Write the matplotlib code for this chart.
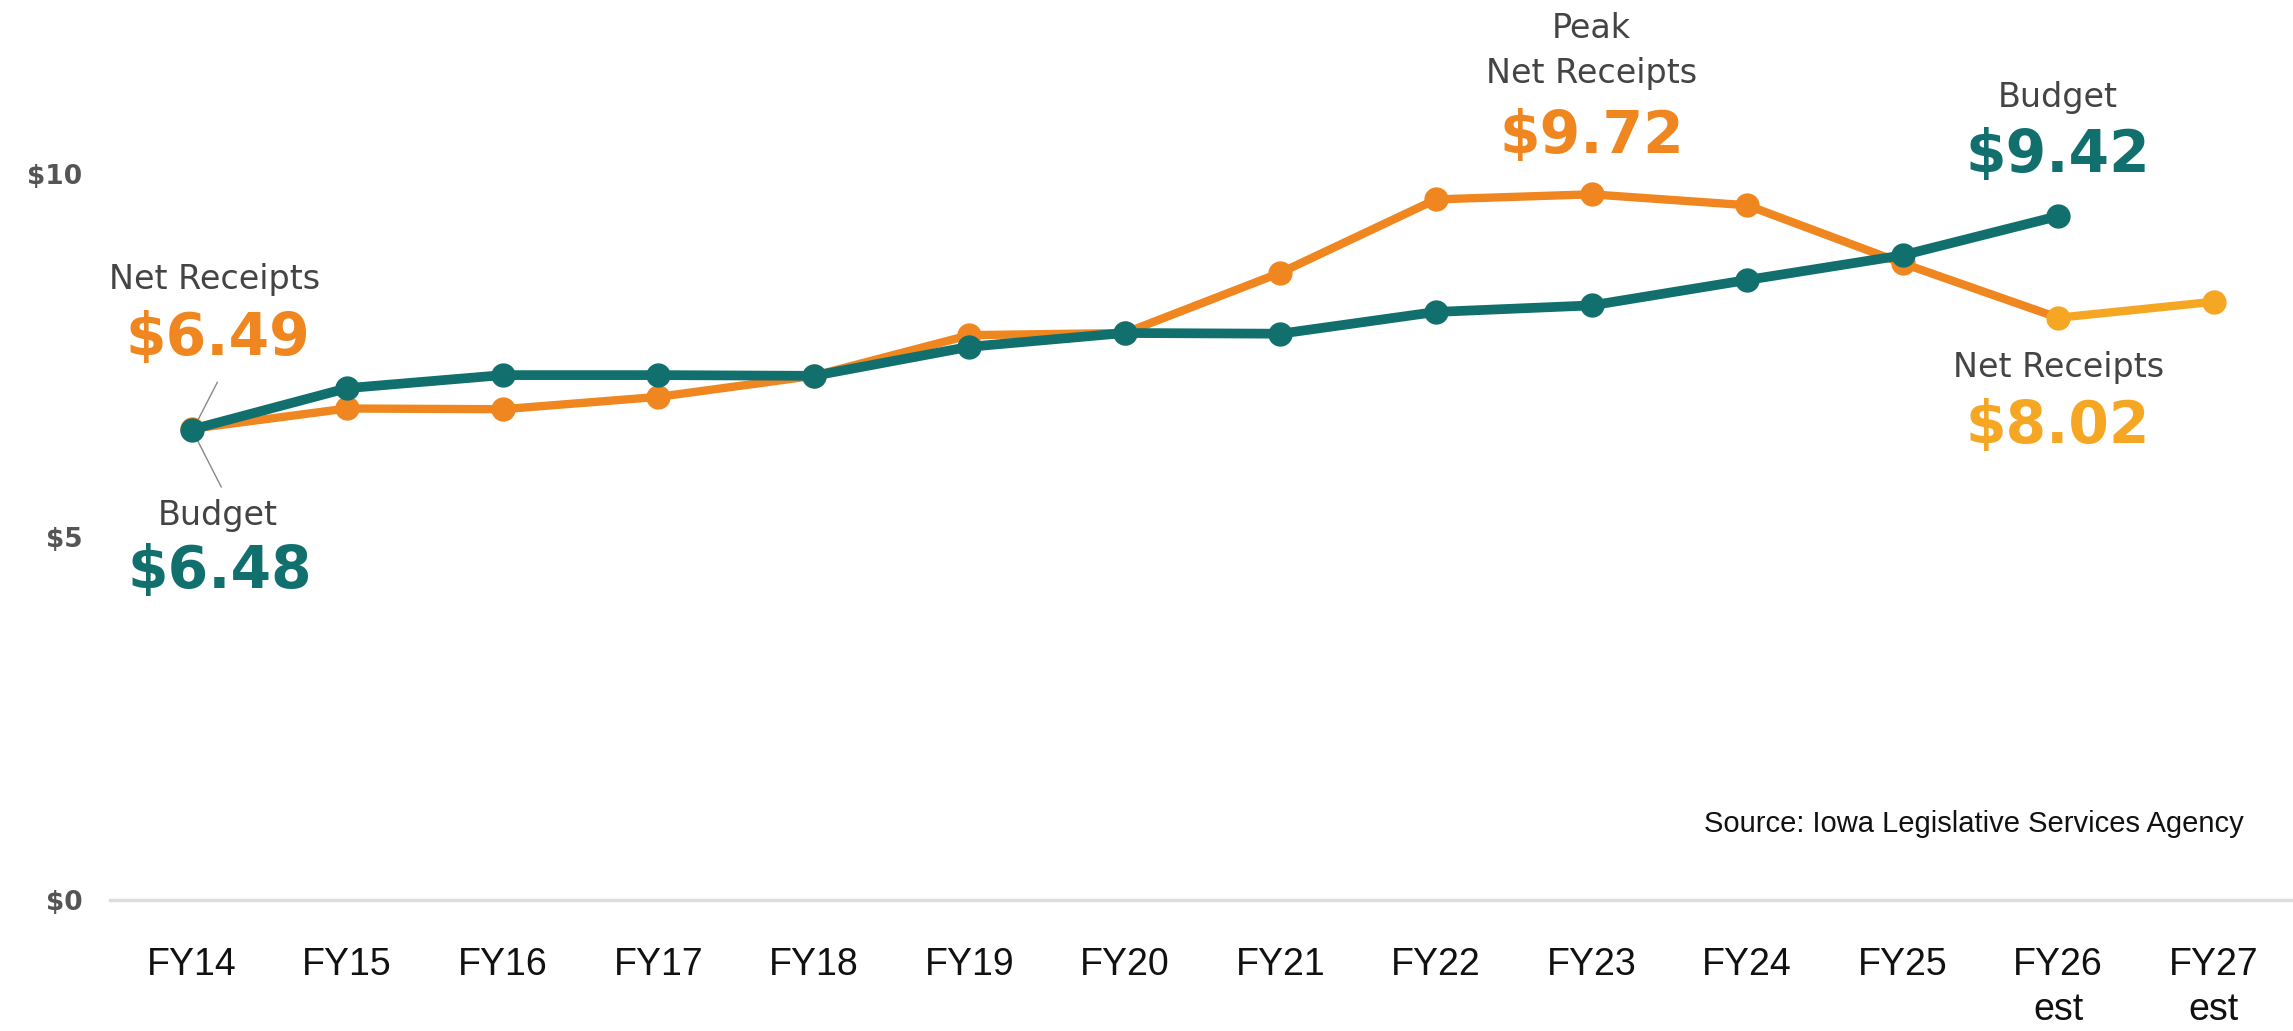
import matplotlib
matplotlib.use("Agg")
import matplotlib.pyplot as plt

years = ["FY14", "FY15", "FY16", "FY17", "FY18", "FY19", "FY20", "FY21",
         "FY22", "FY23", "FY24", "FY25", "FY26\nest", "FY27\nest"]
budget = [6.48, 7.05, 7.23, 7.23, 7.22, 7.62, 7.81, 7.80, 8.10, 8.19, 8.54, 8.88, 9.42]
receipts = [6.49, 6.77, 6.76, 6.93, 7.22, 7.78, 7.81, 8.64, 9.65, 9.72, 9.57, 8.77, 8.02, 8.24]
yticks = [0, 5, 10]
ytick_labels = ["$0", "$5", "$10"]

TEAL = "#11706D"
ORANGE = "#F0861F"
YELLOW = "#F5A623"
GRAY = "#444444"

W, H = 2293, 1031
fig = plt.figure(figsize=(W / 100, H / 100), dpi=100)
ax = fig.add_axes([110 / W, 131 / H, 1 - 110 / W, 900 / H])

x = list(range(len(years)))
n_est = 2
# actual receipts (orange) through FY26 line, markers through FY25
ax.plot(x[:len(receipts) - 1], receipts[:-1], color=ORANGE, lw=6, zorder=2)
ax.plot(x[:len(receipts) - n_est], receipts[:-n_est], 'o', color=ORANGE, ms=16.5, zorder=2)
# estimated receipts (yellow-orange)
ax.plot(x[len(receipts) - n_est:], receipts[-n_est:], 'o-', color=YELLOW, lw=6, ms=16.5, zorder=2)
# budget (teal)
ax.plot(x[:len(budget)], budget, 'o-', color=TEAL, lw=7, ms=16.5, zorder=3)

ax.set_xlim(-0.525, 13.51)
ax.set_ylim(0, 900 / 72.6)
ax.set_yticks(yticks)
ax.set_yticklabels(ytick_labels)
ax.set_xticks(x)
ax.set_xticklabels(years, fontsize=27, family="Liberation Sans", color="#111111",
                   linespacing=1.3, va="top")
for lab in ax.get_yticklabels():
    lab.set_fontfamily("DejaVu Sans")
    lab.set_fontweight("bold")
    lab.set_fontsize(19)
    lab.set_color("#555555")
ax.tick_params(axis="y", length=0, pad=20)
ax.tick_params(axis="x", length=0, pad=34)
for s in ax.spines.values():
    s.set_visible(False)
ax.axhline(0, color="#DDDDDD", lw=2.5, zorder=1, clip_on=False)

lab_kw = dict(ha="center", va="center", fontsize=24, family="DejaVu Sans", color=GRAY)
val_kw = dict(ha="center", va="center", fontsize=42, family="DejaVu Sans", fontweight="bold")

# left annotations
ax.text(0.15, 8.55, "Net Receipts", **lab_kw)
ax.text(0.17, 7.73, "$%.2f" % receipts[0], color=ORANGE, **val_kw)
ax.text(0.17, 5.30, "Budget", **lab_kw)
ax.text(0.18, 4.52, "$%.2f" % budget[0], color=TEAL, **val_kw)
ax.plot([0.165, 0.04], [7.13, 6.61], color="#888888", lw=1, zorder=1)
ax.plot([0.04, 0.19], [6.32, 5.69], color="#888888", lw=1, zorder=1)

# peak
ax.text(9.0, 12.01, "Peak", **lab_kw)
ax.text(9.0, 11.39, "Net Receipts", **lab_kw)
ax.text(9.0, 10.51, "$%.2f" % max(receipts), color=ORANGE, **val_kw)

# right annotations
ax.text(12.0, 11.05, "Budget", **lab_kw)
ax.text(12.0, 10.25, "$%.2f" % budget[-1], color=TEAL, **val_kw)
ax.text(12.0, 7.34, "Net Receipts", **lab_kw)
ax.text(12.0, 6.52, "$%.2f" % receipts[-2], color=YELLOW, **val_kw)

fig.text(2244 / W, 1 - 824 / H, "Source: Iowa Legislative Services Agency",
         ha="right", va="center", fontsize=21, family="Liberation Sans", color="#111111")

fig.savefig("out.png", dpi=100, facecolor="white")
